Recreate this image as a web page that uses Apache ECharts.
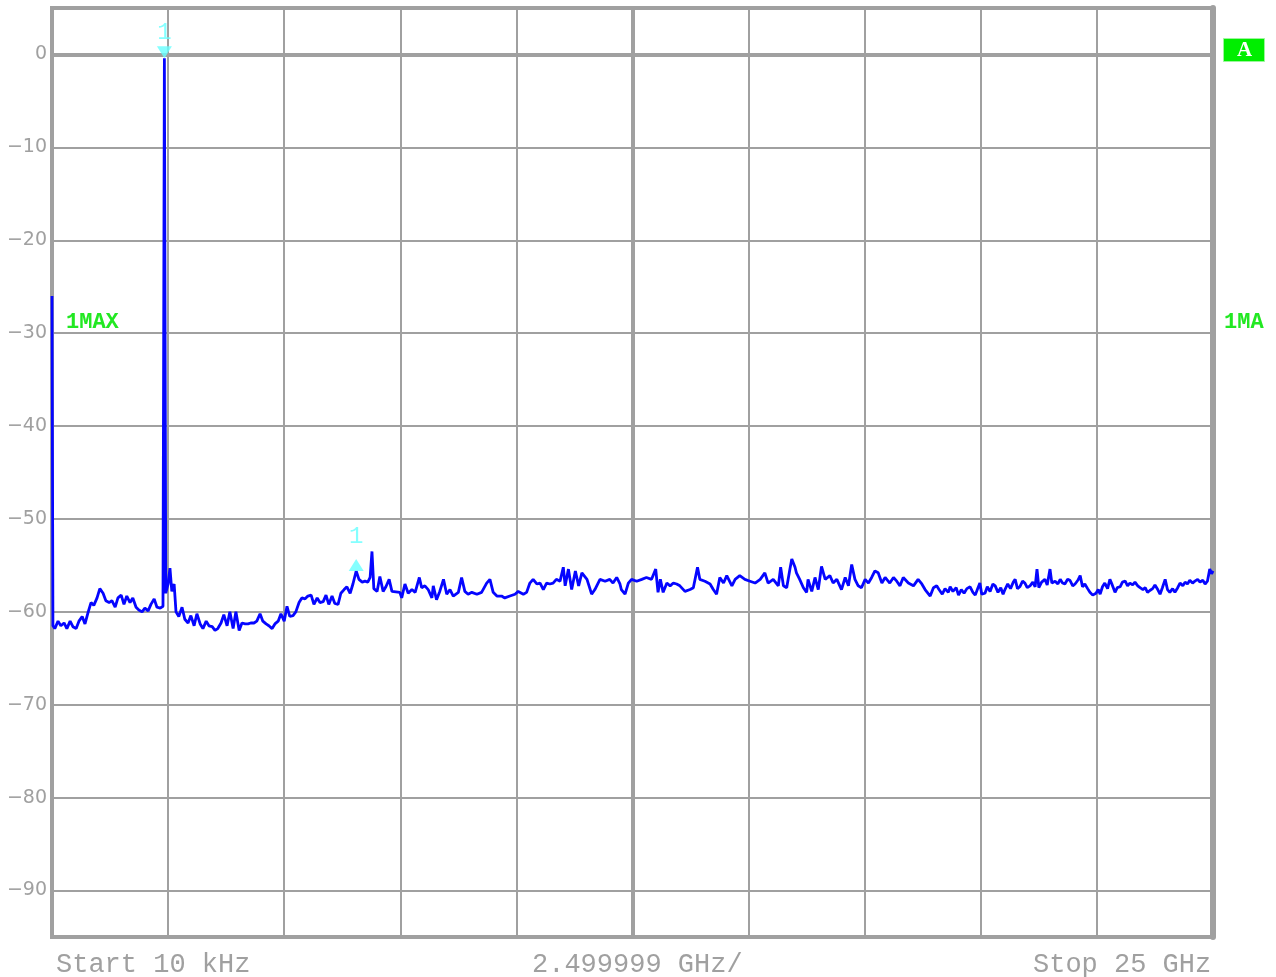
<!DOCTYPE html>
<html>
<head>
<meta charset="utf-8">
<script src="https://cdn.jsdelivr.net/npm/echarts@6/dist/echarts.min.js"></script>
<style>
html,body{margin:0;padding:0;background:#fff;}
#chart{width:1276px;height:977px;}
</style>
</head>
<body>
<div id="chart"></div>
<script>
// Frequency of each trace point (GHz)
const freqGHz = [
  0.00,0.02,0.06,0.13,0.19,0.26,0.32,0.39,0.45,0.52,0.58,0.65,0.71,0.78,0.84,0.90,0.97,1.03,1.10,1.16,
  1.23,1.29,1.36,1.42,1.49,1.55,1.61,1.68,1.74,1.81,1.87,1.94,2.00,2.07,2.13,2.20,2.26,2.33,2.39,2.42,
  2.45,2.50,2.54,2.58,2.63,2.67,2.73,2.80,2.86,2.93,2.99,3.06,3.12,3.19,3.25,3.32,3.38,3.45,3.51,3.57,
  3.64,3.70,3.77,3.83,3.90,3.96,4.03,4.09,4.16,4.22,4.28,4.35,4.41,4.48,4.54,4.61,4.67,4.74,4.80,4.87,
  4.93,5.00,5.06,5.12,5.19,5.25,5.32,5.38,5.45,5.51,5.58,5.64,5.71,5.77,5.84,5.90,5.96,6.03,6.09,6.16,
  6.22,6.29,6.35,6.42,6.48,6.55,6.61,6.68,6.74,6.80,6.85,6.89,6.93,7.00,7.06,7.13,7.19,7.26,7.32,7.49,
  7.53,7.60,7.67,7.75,7.82,7.91,7.96,8.03,8.10,8.18,8.21,8.28,8.35,8.43,8.50,8.57,8.64,8.75,8.82,8.89,
  8.96,9.04,9.15,9.25,9.36,9.43,9.50,9.58,9.68,9.75,9.86,9.97,10.04,10.15,10.22,10.29,10.36,10.44,10.51,10.58,
  10.65,10.72,10.79,10.86,10.94,11.01,11.05,11.12,11.19,11.27,11.34,11.41,11.52,11.62,11.69,11.80,11.91,12.01,12.08,12.16,
  12.23,12.26,12.34,12.41,12.48,12.59,12.70,12.80,12.91,13.00,13.05,13.10,13.16,13.24,13.31,13.38,13.45,13.52,13.63,13.74,
  13.81,13.90,13.95,14.06,14.17,14.24,14.31,14.38,14.46,14.53,14.64,14.71,14.81,14.92,15.03,15.14,15.25,15.35,15.42,15.53,
  15.64,15.69,15.75,15.82,15.89,15.93,16.00,16.03,16.10,16.18,16.25,16.28,16.36,16.43,16.50,16.57,16.65,16.75,16.82,16.90,
  17.00,17.08,17.15,17.22,17.29,17.36,17.43,17.51,17.58,17.65,17.72,17.79,17.87,17.94,18.04,18.12,18.19,18.26,18.33,18.44,
  18.55,18.65,18.73,18.80,18.91,18.98,19.05,
  19.10,19.17,19.23,19.30,19.34,19.40,19.47,19.52,19.58,19.64,19.70,19.77,19.83,19.88,19.94,19.98,20.02,20.09,20.14,20.20,
  20.26,20.31,20.37,20.43,20.48,20.52,20.58,20.64,20.70,20.74,20.79,20.84,20.90,20.95,21.00,21.06,21.12,21.17,21.21,21.25,
  21.31,21.38,21.43,21.49,21.53,21.60,21.66,21.71,21.76,21.81,21.87,21.92,21.98,22.03,22.09,22.14,22.19,22.24,22.30,22.35,
  22.41,22.48,22.53,22.57,22.62,22.67,22.73,22.78,22.83,22.89,22.94,23.00,23.05,23.11,23.16,23.21,23.27,23.32,23.38,23.43,
  23.49,23.54,23.59,23.64,23.70,23.75,23.81,23.86,23.91,23.97,24.02,24.07,24.13,24.18,24.24,24.29,24.35,24.40,24.45,24.50,
  24.56,24.61,24.67,24.72,24.78,24.83,24.88,24.93,24.97,25.00
];
// Level of each trace point (dBm), trace 1 MAX hold
const levelDbm = [
  -26.0,-61.5,-61.8,-61.0,-61.5,-61.2,-61.8,-61.0,-61.6,-61.8,-61.0,-60.5,-61.3,-60.0,-59.0,-59.3,-58.5,-57.5,-58.0,-58.8,
  -59.0,-58.8,-59.5,-58.5,-58.2,-59.2,-58.3,-59.0,-58.5,-59.5,-59.8,-60.0,-59.6,-59.9,-59.2,-58.6,-59.5,-59.6,-59.4,-0.4,
  -58.0,-57.0,-55.3,-57.8,-57.0,-60.0,-60.5,-59.5,-60.8,-61.2,-60.4,-61.5,-60.2,-61.3,-61.8,-61.0,-61.5,-61.6,-62.0,-61.8,
  -61.2,-60.3,-61.5,-60.0,-61.8,-60.0,-62.0,-61.2,-61.3,-61.3,-61.2,-61.2,-61.0,-60.2,-61.0,-61.3,-61.5,-61.8,-61.3,-61.0,
  -60.2,-61.0,-59.4,-60.5,-60.4,-60.0,-59.0,-58.5,-58.6,-58.3,-58.2,-59.2,-58.5,-59.0,-58.9,-58.2,-59.2,-58.3,-59.1,-59.2,
  -58.0,-57.6,-57.3,-58.0,-57.0,-55.6,-56.5,-56.8,-56.7,-56.8,-56.3,-53.5,-57.5,-57.8,-56.2,-57.8,-57.3,-56.5,-57.8,-57.9,
  -58.5,-57.0,-58.0,-57.6,-57.9,-56.3,-57.4,-57.2,-57.6,-58.5,-57.2,-58.7,-57.8,-56.5,-58.1,-57.6,-58.3,-57.9,-56.3,-57.8,
  -58.1,-57.9,-58.1,-57.9,-56.9,-56.5,-57.9,-58.3,-58.3,-58.5,-58.3,-58.1,-57.8,-58.1,-57.9,-56.9,-56.5,-57.0,-56.9,-57.6,
  -56.9,-57.0,-56.9,-56.5,-56.7,-55.2,-57.2,-55.4,-57.6,-55.6,-57.2,-55.8,-56.5,-58.1,-57.6,-56.5,-56.7,-56.5,-56.9,-56.3,
  -57.0,-57.6,-58.1,-56.9,-56.5,-56.7,-56.5,-56.3,-56.5,-55.4,-57.9,-56.5,-57.9,-56.9,-57.2,-56.9,-57.0,-57.2,-57.8,-57.6,
  -57.4,-55.2,-56.5,-56.7,-57.0,-57.6,-58.1,-56.3,-56.9,-56.1,-57.2,-56.5,-56.1,-56.5,-56.7,-56.9,-56.5,-55.8,-56.9,-56.5,
  -57.2,-55.2,-57.2,-57.4,-55.4,-54.3,-55.2,-55.8,-56.5,-57.4,-57.9,-56.5,-57.8,-56.3,-57.6,-55.1,-56.5,-56.1,-56.9,-56.5,
  -57.6,-56.3,-57.2,-54.9,-56.5,-57.2,-57.4,-56.5,-56.9,-56.3,-55.6,-55.8,-56.9,-56.3,-56.9,-56.3,-56.7,-57.2,-56.3,-56.9,
  -57.2,-56.5,-57.0,-57.6,-58.3,-57.4,-57.2,
  -57.6,-58.1,-57.5,-57.9,-57.3,-57.8,-57.4,-58.2,-57.6,-58.0,-57.5,-57.3,-57.9,-58.2,-57.4,-56.9,-58.1,-58.0,-57.3,-57.8,
  -57.0,-57.2,-57.9,-57.4,-58.1,-57.6,-57.0,-57.5,-56.8,-56.5,-57.5,-57.3,-56.7,-56.9,-57.4,-57.2,-56.8,-57.3,-55.4,-57.4,
  -56.8,-56.5,-57.1,-55.4,-56.9,-56.7,-57.0,-56.5,-56.9,-57.0,-56.5,-56.6,-57.2,-57.0,-56.6,-56.1,-57.3,-57.0,-57.5,-57.9,
  -58.2,-58.0,-57.6,-58.1,-57.3,-56.9,-57.5,-56.5,-57.1,-57.9,-57.4,-57.3,-56.8,-56.7,-57.2,-56.9,-57.1,-56.8,-57.2,-57.4,
  -57.6,-57.4,-57.9,-57.7,-57.5,-57.1,-57.6,-58.1,-57.4,-56.5,-57.6,-57.9,-57.5,-57.9,-57.4,-56.9,-57.2,-56.8,-57.0,-56.6,
  -56.9,-56.7,-56.5,-56.8,-56.6,-57.0,-56.7,-55.4,-55.9,-55.6
];
// Markers
const markerFreq = [2.42, 6.55];
const markerLevel = [-0.4, -55.6];
const markerLabel = ['1', '1'];
// Axis settings (data-related)
const yTickValues = [0, -10, -20, -30, -40, -50, -60, -70, -80, -90];
const bottomTexts = ['Start 10 kHz', '2.499999 GHz/', 'Stop 25 GHz'];
const traceLabel = '1MAX';
const traceLabelRight = '1MA';
const screenLabel = 'A';

const GRID = '#a0a0a0';
const chart = echarts.init(document.getElementById('chart'));

const traceData = freqGHz.map((f, i) => [f, levelDbm[i]]);
const markerData = markerFreq.map((f, i) => ({
  value: [f, markerLevel[i]],
  symbolRotate: i === 0 ? 180 : 0,
  symbolOffset: [0, -6],
  label: { distance: i === 0 ? 2 : 10 }
}));

chart.setOption({
  animation: false,
  backgroundColor: '#ffffff',
  grid: { left: 52, right: 63, top: 8, bottom: 40, show: true, borderColor: GRID, borderWidth: 4, backgroundColor: 'transparent' },
  xAxis: {
    type: 'value', min: 0, max: 25, interval: 2.5,
    axisLine: { show: true, lineStyle: { color: GRID, width: 4 } },
    axisTick: { show: false }, axisLabel: { show: false },
    splitLine: { show: true, lineStyle: { color: GRID, width: 2 } }
  },
  yAxis: [{
    type: 'value', min: -95, max: 5, interval: 5,
    axisLine: { show: true, lineStyle: { color: GRID, width: 4 } },
    axisTick: { show: false },
    axisLabel: {
      margin: 5, color: GRID, fontFamily: 'DejaVu Sans', fontSize: 19,
      formatter: v => yTickValues.indexOf(v) >= 0 ? (v === 0 ? '0' : '\u2212' + Math.abs(v)) : ''
    },
    splitLine: { show: true, lineStyle: { color: ['transparent', GRID], width: 2 } }
  }, {
    type: 'value', min: -95, max: 5, position: 'right',
    axisLine: { show: true, lineStyle: { color: GRID, width: 6 } },
    axisTick: { show: false }, axisLabel: { show: false }, splitLine: { show: false }
  }],
  series: [{
    type: 'line', data: traceData, showSymbol: false, symbol: 'none',
    lineStyle: { color: '#0505ff', width: 2.8 }, z: 5,
    markLine: {
      silent: true, symbol: 'none', label: { show: false },
      lineStyle: { color: GRID, width: 4, type: 'solid' },
      data: [{ xAxis: 12.5 }]
    }
  }, {
    type: 'scatter', data: markerData, symbol: 'triangle', symbolSize: [15, 12],
    itemStyle: { color: '#66ffff' }, z: 6,
    label: {
      show: true, position: 'top', formatter: p => markerLabel[p.dataIndex],
      color: '#66ffff', fontFamily: 'Liberation Mono', fontSize: 24
    }
  }],
  graphic: [
    { type: 'text', left: 66, top: 311, style: { text: traceLabel, fill: '#22e822', font: 'bold 22px "Liberation Mono"' } },
    { type: 'text', left: 1224, top: 311, style: { text: traceLabelRight, fill: '#22e822', font: 'bold 22px "Liberation Mono"' } },
    { type: 'rect', left: 1223, top: 38, shape: { width: 41, height: 23 }, style: { fill: '#00ee00', stroke: '#9cf59c', lineWidth: 1 } },
    { type: 'text', left: 1237, top: 40, style: { text: screenLabel, fill: '#ffffff', font: 'bold 21px "Liberation Serif"' } },
    { type: 'text', left: 56, top: 951, style: { text: bottomTexts[0], fill: GRID, font: '27px "Liberation Mono"' } },
    { type: 'text', left: 532, top: 951, style: { text: bottomTexts[1], fill: GRID, font: '27px "Liberation Mono"' } },
    { type: 'text', left: 1033, top: 951, style: { text: bottomTexts[2], fill: GRID, font: '27px "Liberation Mono"' } }
  ]
});
</script>
</body>
</html>
